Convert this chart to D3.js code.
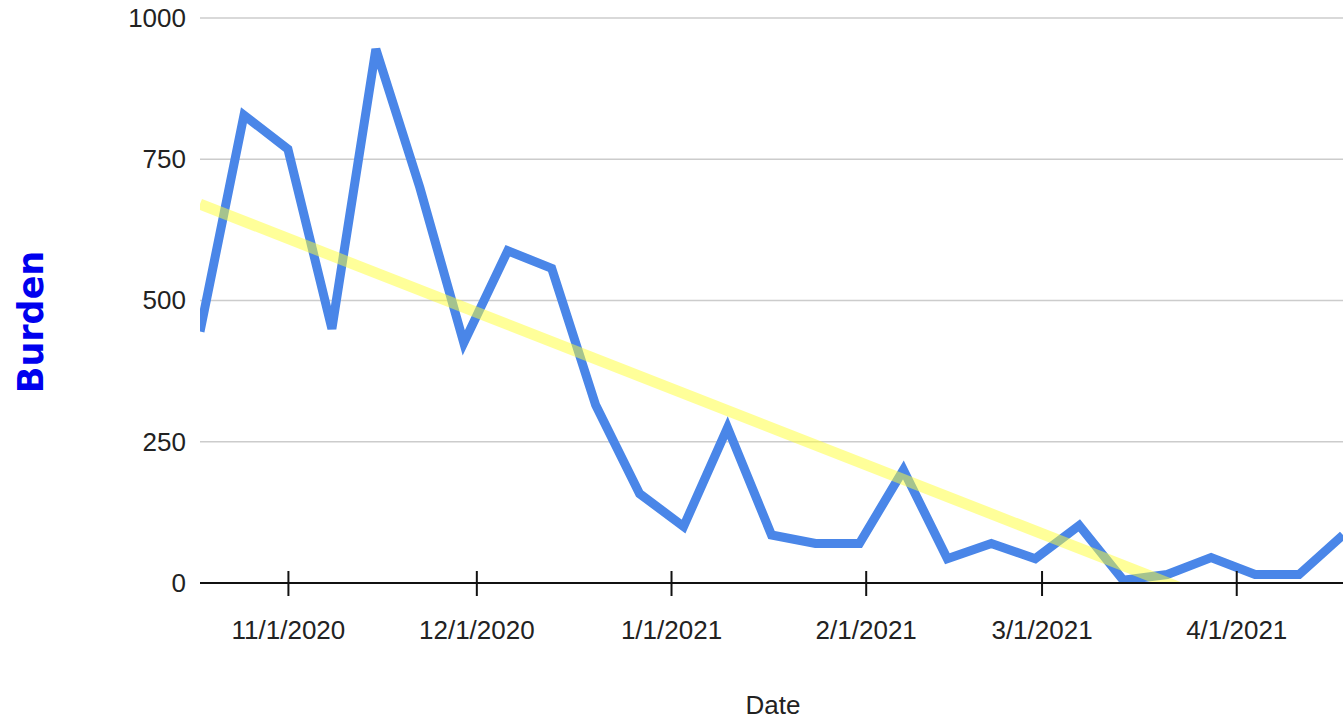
<!DOCTYPE html>
<html>
<head>
<meta charset="utf-8">
<script src="https://cdn.jsdelivr.net/npm/d3@7"></script>
<style>
  body { margin: 0; background: #fff; }
  text { font-family: "Liberation Sans", Arial, sans-serif; fill: #222; }
</style>
</head>
<body>
<script>
// weekly dates and burden values
var dates = ["2020-10-18","2020-10-25","2020-11-01","2020-11-08","2020-11-15","2020-11-22",
  "2020-11-29","2020-12-06","2020-12-13","2020-12-20","2020-12-27","2021-01-03","2021-01-10",
  "2021-01-17","2021-01-24","2021-01-31","2021-02-07","2021-02-14","2021-02-21","2021-02-28",
  "2021-03-07","2021-03-14","2021-03-21","2021-03-28","2021-04-04","2021-04-11","2021-04-18"];
var burden = [445, 828, 768, 450, 945, 700, 425, 588, 557, 315, 158, 100, 275, 85, 70, 70,
  200, 43, 70, 43, 102, 5, 15, 45, 15, 15, 85];
var yTicks = [0, 250, 500, 750, 1000];
var xTickDates = ["2020-11-01","2020-12-01","2021-01-01","2021-02-01","2021-03-01","2021-04-01"];

var svgWidth = 1343, svgHeight = 719;
var plotLeft = 200, plotRight = 1343, plotTop = 18, plotBottom = 583;

var parse = d3.timeParse("%Y-%m-%d");
var data = dates.map((d, i) => ({date: parse(d), value: burden[i]}));

var svg = d3.select("body").append("svg")
    .attr("width", svgWidth)
    .attr("height", svgHeight);

var xScale = d3.scaleTime()
    .domain([parse("2020-10-18"), parse("2021-04-18")])
    .range([plotLeft, plotRight]);
var yScale = d3.scaleLinear()
    .domain([0, 1000])
    .range([plotBottom, plotTop]);

svg.append("clipPath").attr("id", "plot")
  .append("rect")
    .attr("x", plotLeft).attr("y", 0)
    .attr("width", plotRight - plotLeft).attr("height", plotBottom);

// gridlines
svg.append("g").selectAll("line")
    .data(yTicks.filter(t => t > 0))
    .enter().append("line")
    .attr("x1", plotLeft).attr("x2", plotRight)
    .attr("y1", d => yScale(d)).attr("y2", d => yScale(d))
    .attr("stroke", "#cccccc").attr("stroke-width", 1.5);

// y labels
var yAxis = d3.axisLeft(yScale).tickValues(yTicks).tickFormat(d3.format("d")).tickSize(0).tickPadding(14);
var gy = svg.append("g").attr("transform", `translate(${plotLeft},0)`).call(yAxis);
gy.select(".domain").remove();
gy.attr("font-size", 26).attr("font-family", "Liberation Sans, Arial, sans-serif");
gy.selectAll("text").attr("fill", "#222");

// blue series
var line = d3.line().x(d => xScale(d.date)).y(d => yScale(d.value));
svg.append("path")
    .datum(data)
    .attr("clip-path", "url(#plot)")
    .attr("d", line)
    .attr("fill", "none")
    .attr("stroke", "#4a86e8")
    .attr("stroke-width", 9)
    .attr("stroke-linejoin", "miter");

// linear trendline (least squares over the series)
var n = data.length;
var mx = d3.mean(data, (d, i) => i), my = d3.mean(burden);
var sxy = d3.sum(burden, (v, i) => (i - mx) * (v - my));
var sxx = d3.sum(burden, (v, i) => (i - mx) * (i - mx));
var slope = sxy / sxx, icpt = my - slope * mx;
var trend = [{date: data[0].date, value: icpt}, {date: data[n - 1].date, value: icpt + slope * (n - 1)}];
svg.append("path")
    .datum(trend)
    .attr("clip-path", "url(#plot)")
    .attr("d", line)
    .attr("fill", "none")
    .attr("stroke", "#ffff33")
    .attr("stroke-opacity", 0.5)
    .attr("stroke-width", 11);

// x axis
var xAxis = d3.axisBottom(xScale)
    .tickValues(xTickDates.map(parse))
    .tickFormat(d3.timeFormat("%-m/%-d/%Y"))
    .tickSize(13).tickPadding(25);
var gx = svg.append("g").attr("transform", `translate(0,${plotBottom})`).call(xAxis);
gx.attr("font-size", 26).attr("font-family", "Liberation Sans, Arial, sans-serif");
gx.select(".domain").attr("d", `M${plotLeft},0H${plotRight}`).attr("stroke", "#111").attr("stroke-width", 2);
gx.selectAll(".tick line").attr("y1", -12).attr("y2", 13).attr("stroke", "#111").attr("stroke-width", 2);
gx.selectAll("text").attr("fill", "#222");

svg.append("text")
    .attr("x", 773).attr("y", 714)
    .attr("text-anchor", "middle")
    .attr("font-size", 26)
    .text("Date");

svg.append("text")
    .attr("transform", "translate(43,322) rotate(-90)")
    .attr("text-anchor", "middle")
    .attr("font-size", 35)
    .attr("font-weight", "bold")
    .style("font-family", "'Comic Sans MS', 'DejaVu Sans', sans-serif")
    .style("fill", "#0000ee")
    .text("Burden");
</script>
</body>
</html>
